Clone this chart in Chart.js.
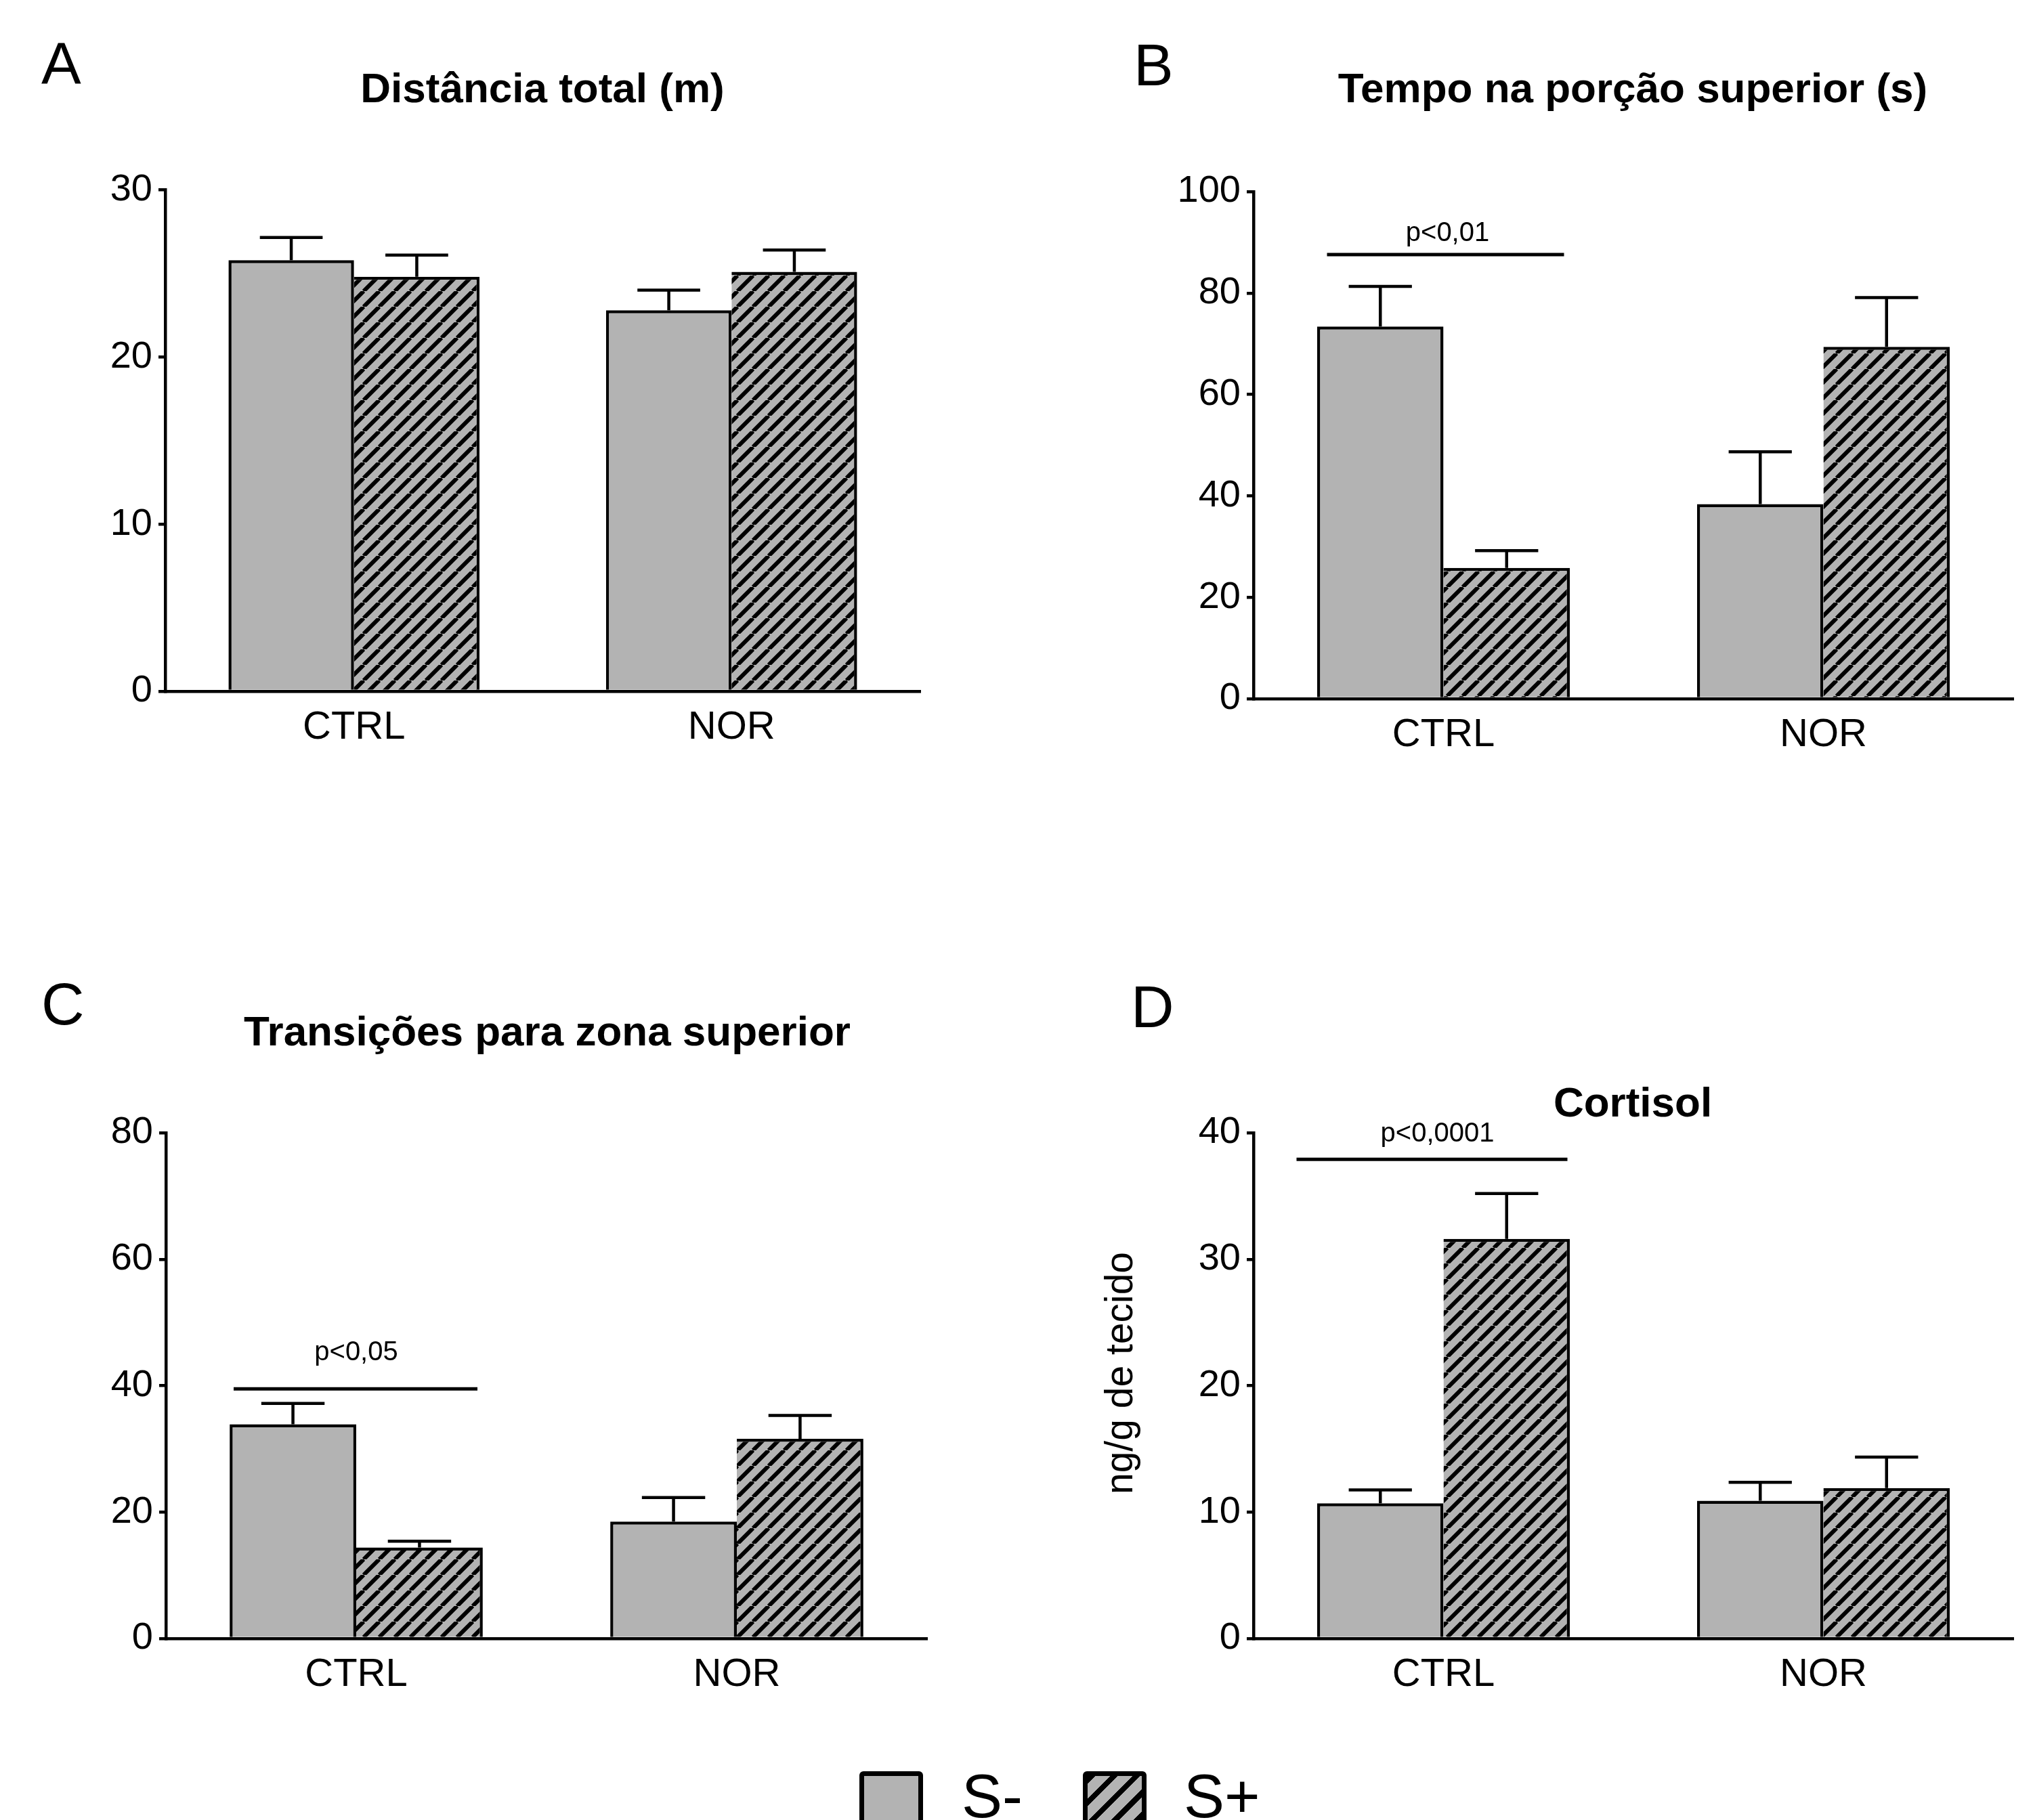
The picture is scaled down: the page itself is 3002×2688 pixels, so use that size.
<!DOCTYPE html>
<html><head><meta charset="utf-8">
<script src="https://cdn.jsdelivr.net/npm/chart.js@4.4.1/dist/chart.umd.min.js"></script>
<style>
html,body{margin:0;padding:0;background:#fff;}
body{width:3002px;height:2688px;position:relative;overflow:hidden;font-family:'Liberation Sans',Arial,sans-serif;color:#000;}
.abs{position:absolute;line-height:1;white-space:nowrap;}
.title{font-weight:bold;font-size:62px;width:1400px;text-align:center;}
.letter{font-size:88px;}
canvas{position:absolute;}
.sw{position:absolute;width:80px;height:80px;border:7px solid #000;border-radius:6px;}
</style></head><body>
<div class="abs letter" style="left:61px;top:50px;">A</div>
<div class="abs letter" style="left:1674px;top:52px;">B</div>
<div class="abs letter" style="left:61px;top:1439px;">C</div>
<div class="abs letter" style="left:1670px;top:1443px;">D</div>
<div class="abs title" style="left:101px;top:99px;">Distância total (m)</div>
<div class="abs title" style="left:1711px;top:99px;">Tempo na porção superior (s)</div>
<div class="abs title" style="left:108px;top:1492px;">Transições para zona superior</div>
<div class="abs title" style="left:1711px;top:1597px;">Cortisol</div>
<div class="abs" style="left:1652px;top:2028px;font-size:57px;transform:translate(-50%,-50%) rotate(-90deg);">ng/g de tecido</div>
<canvas id="cA" width="1300" height="950" style="left:100px;top:200px;"></canvas>
<canvas id="cB" width="1302" height="950" style="left:1700px;top:200px;"></canvas>
<canvas id="cC" width="1300" height="950" style="left:100px;top:1590px;"></canvas>
<canvas id="cD" width="1302" height="950" style="left:1700px;top:1590px;"></canvas>
<div class="sw" style="left:1269px;top:2616px;background:#b3b3b3;"></div>
<div class="abs" style="left:1420px;top:2608px;font-size:90px;">S-</div>
<div class="sw" style="left:1599px;top:2616px;background:repeating-linear-gradient(135deg,#000 0 8px,#b3b3b3 8px 23.5px);"></div>
<div class="abs" style="left:1748px;top:2608px;font-size:90px;">S+</div>
<script>
// ---------- data ----------
const categories = ['CTRL', 'NOR'];
const seriesLabels = ['S-', 'S+'];

// A: Distância total (m)
const distSminus = [25.8, 22.8];
const distSminusSem = [1.35, 1.2];
const distSplus = [24.8, 25.1];
const distSplusSem = [1.3, 1.3];
const distTicks = [0, 10, 20, 30];

// B: Tempo na porção superior (s)
const tempoSminus = [73.4, 38.4];
const tempoSminusSem = [7.9, 10.3];
const tempoSplus = [25.8, 69.4];
const tempoSplusSem = [3.4, 9.7];
const tempoTicks = [0, 20, 40, 60, 80, 100];

// C: Transições para zona superior
const transSminus = [33.9, 18.5];
const transSminusSem = [3.3, 3.8];
const transSplus = [14.4, 31.6];
const transSplusSem = [1.0, 3.7];
const transTicks = [0, 20, 40, 60, 80];

// D: Cortisol (ng/g de tecido)
const cortSminus = [10.7, 10.9];
const cortSminusSem = [1.05, 1.45];
const cortSplus = [31.6, 11.9];
const cortSplusSem = [3.6, 2.45];
const cortTicks = [0, 10, 20, 30, 40];

// significance annotations (CTRL S- vs S+)
const sigLabels = ['', 'p<0,01', 'p<0,05', 'p<0,0001'];
const sigLevels = [null, 87.6, 39.5, 37.9];

// ---------- styles ----------
const GRAY = '#b3b3b3';
const FONT = "'Liberation Sans', Arial, sans-serif";
Chart.defaults.font.family = FONT;
Chart.defaults.color = '#000';

function makeHatch() {
  const s = 23;
  const c = document.createElement('canvas');
  c.width = s; c.height = s;
  const g = c.getContext('2d');
  g.fillStyle = GRAY; g.fillRect(0, 0, s, s);
  g.strokeStyle = '#000'; g.lineWidth = 6; g.lineCap = 'butt';
  g.beginPath();
  for (let k = -1; k <= 1; k++) { g.moveTo(k * s, s); g.lineTo(k * s + s, 0); }
  g.stroke();
  return g.createPattern(c, 'repeat');
}
const hatch = makeHatch();

const errBarPlugin = {
  id: 'errBars',
  afterDatasetsDraw(chart) {
    const ctx = chart.ctx, ys = chart.scales.y, xs = chart.scales.x;
    ctx.save();
    ctx.strokeStyle = '#000';
    ctx.lineWidth = 4.5;
    ctx.lineCap = 'butt';
    chart.data.datasets.forEach((ds, i) => {
      const meta = chart.getDatasetMeta(i);
      meta.data.forEach((bar, j) => {
        const p = bar.getProps(['x', 'width'], true);
        const yv = ys.getPixelForValue(ds.data[j]);
        const ye = ys.getPixelForValue(ds.data[j] + ds.sem[j]);
        const half = p.width / 4;
        ctx.beginPath();
        ctx.moveTo(p.x, yv); ctx.lineTo(p.x, ye);
        ctx.moveTo(p.x - half, ye); ctx.lineTo(p.x + half, ye);
        ctx.stroke();
      });
    });
    const sig = chart.options.plugins.sig;
    if (sig && sig.label) {
      const cx = xs.getPixelForValue(0);
      const yl = ys.getPixelForValue(sig.level);
      ctx.lineWidth = 5;
      ctx.beginPath();
      ctx.moveTo(cx + sig.dx1, yl); ctx.lineTo(cx + sig.dx2, yl);
      ctx.stroke();
      ctx.fillStyle = '#000';
      ctx.font = '40px ' + FONT;
      ctx.textAlign = 'center';
      ctx.textBaseline = 'alphabetic';
      ctx.fillText(sig.label, cx + sig.dxText, yl - sig.textDy);
    }
    ctx.restore();
  }
};

function makeChart(id, sMinus, sMinusSem, sPlus, sPlusSem, ticks, st, sigIdx) {
  const ctx = document.getElementById(id).getContext('2d');
  return new Chart(ctx, {
    type: 'bar',
    data: {
      labels: categories,
      datasets: [
        { label: seriesLabels[0], data: sMinus, sem: sMinusSem, backgroundColor: GRAY, borderColor: '#000',
          borderWidth: { top: 4.5, left: 4.5, right: 4.5, bottom: 0 } },
        { label: seriesLabels[1], data: sPlus, sem: sPlusSem, backgroundColor: hatch, borderColor: '#000',
          borderWidth: { top: 4.5, left: 0, right: 4.5, bottom: 0 } }
      ]
    },
    options: {
      responsive: false,
      devicePixelRatio: 1,
      animation: false,
      layout: { padding: st.padding },
      datasets: { bar: { categoryPercentage: 0.665, barPercentage: 1.0, inflateAmount: 0, borderSkipped: 'bottom' } },
      plugins: {
        legend: { display: false },
        title: { display: false },
        tooltip: { enabled: false },
        sig: sigIdx ? { label: sigLabels[sigIdx], level: sigLevels[sigIdx], dx1: st.sig.dx1, dx2: st.sig.dx2, dxText: st.sig.dxText, textDy: st.sig.textDy } : null
      },
      scales: {
        x: {
          z: 1,
          grid: { display: false, drawTicks: false },
          border: { display: true, color: '#000', width: 4.5 },
          ticks: { font: { size: 58 }, color: '#000', padding: 19 },
          afterFit(scale) { scale.height = 100; }
        },
        y: {
          z: 1,
          min: ticks[0], max: ticks[ticks.length - 1],
          grid: { display: true, drawOnChartArea: false, drawTicks: true, tickLength: 10, lineWidth: 4.5, color: '#000' },
          border: { display: true, color: '#000', width: 4.5 },
          ticks: { stepSize: ticks[1] - ticks[0], font: { size: 56 }, color: '#000', padding: 9 },
          afterFit(scale) { scale.width = st.yWidth; }
        }
      }
    },
    plugins: [errBarPlugin]
  });
}

makeChart('cA', distSminus, distSminusSem, distSplus, distSplusSem, distTicks,
  { yWidth: 144, padding: { left: 0, right: 41, top: 80.5, bottom: 29 } }, 0);
makeChart('cB', tempoSminus, tempoSminusSem, tempoSplus, tempoSplusSem, tempoTicks,
  { yWidth: 151, padding: { left: 0, right: 29, top: 83, bottom: 18 }, sig: { dx1: -172, dx2: 178, dxText: 6, textDy: 20 } }, 1);
makeChart('cC', transSminus, transSminusSem, transSplus, transSplusSem, transTicks,
  { yWidth: 145, padding: { left: 0, right: 31, top: 83, bottom: 20 }, sig: { dx1: -181, dx2: 179, dxText: 0, textDy: 42 } }, 2);
makeChart('cD', cortSminus, cortSminusSem, cortSplus, cortSplusSem, cortTicks,
  { yWidth: 151, padding: { left: 0, right: 29, top: 83, bottom: 20 }, sig: { dx1: -217, dx2: 183, dxText: -9, textDy: 26 } }, 3);
</script>
</body></html>
